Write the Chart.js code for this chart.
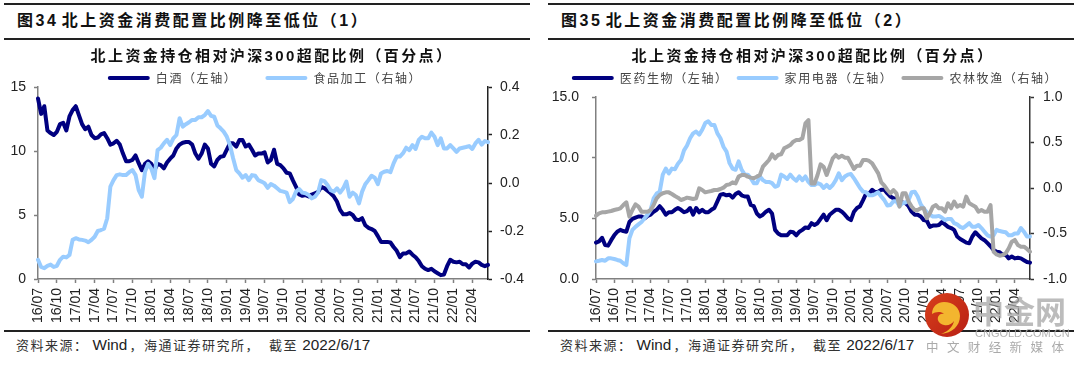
<!DOCTYPE html>
<html><head><meta charset="utf-8">
<script src="https://cdn.jsdelivr.net/npm/chart.js@4"></script>
<style>
html,body{margin:0;padding:0;background:#fff;overflow:hidden;width:1080px;height:365px}
.abs{position:absolute}
.rule{position:absolute;background:#222}
.hd{position:absolute;top:11px;font:bold 16px/20px "Liberation Sans","Noto Sans CJK SC";letter-spacing:2.5px;word-spacing:-3.5px;color:#111;white-space:nowrap}
.src{position:absolute;top:335px;font:13px/20px "Noto Sans CJK SC";letter-spacing:1.5px;color:#333;white-space:pre}
.src b{font:15.3px/20px "Liberation Sans";letter-spacing:0;color:#222}
.src b.w{margin:0 2px 0 4px}
.src i{font-style:normal;margin-left:9px}
canvas{position:absolute}
</style></head><body>
<div class="rule" style="left:4px;width:526px;top:3px;height:2px"></div>
<div class="rule" style="left:4px;width:526px;top:38px;height:2px"></div>
<div class="rule" style="left:4px;width:526px;top:330px;height:2px"></div>
<div class="rule" style="left:548px;width:526px;top:3px;height:2px"></div>
<div class="rule" style="left:548px;width:526px;top:38px;height:2px"></div>
<div class="rule" style="left:548px;width:526px;top:330px;height:2px"></div>
<div class="hd" style="left:17px">图34 北上资金消费配置比例降至低位（1）</div>
<div class="hd" style="left:561px">图35 北上资金消费配置比例降至低位（2）</div>
<canvas id="c1" class="abs" style="left:0;top:45px"></canvas>
<canvas id="c2" class="abs" style="left:550px;top:45px"></canvas>
<div class="src" style="left:16px">资料来源：<b class="w">Wind</b>，海通证券研究所，<i>截至 </i><b>2022/6/17</b></div>
<div class="src" style="left:560px">资料来源：<b class="w">Wind</b>，海通证券研究所，<i>截至 </i><b>2022/6/17</b></div>
<svg class="abs" style="left:920px;top:290px" width="54" height="54" viewBox="0 0 54 54">
<defs><linearGradient id="lg" x1="0" y1="0" x2="1" y2="1"><stop offset="0" stop-color="#d8401c"/><stop offset="1" stop-color="#b81f14"/></linearGradient></defs>
<circle cx="27" cy="25" r="22" fill="url(#lg)"/>
<path d="M12 24c0-8 6-12 12-12 9 0 16 6 16 14 0 10-8 17-19 18 8-3 12-8 13-13-2 3-6 5-10 4-5-1-7-5-6-8 1-3 4-4 6-3-3-3-9-2-12 0z" fill="#f3b52f"/>
</svg>
<div class="abs" style="left:973px;top:292px;font:bold 31px/36px 'Noto Sans CJK SC';color:rgba(165,165,165,.75);white-space:nowrap">中金网</div>
<div class="abs" style="left:975px;top:327px;font:11px/13px 'Liberation Sans';letter-spacing:0;color:rgba(170,170,170,.9);white-space:nowrap">CNGOLD.COM.CN</div>
<div class="abs" style="left:926px;top:338px;font:12.5px/18px 'Noto Sans CJK SC';letter-spacing:8.4px;color:#aaa;white-space:nowrap">中文财经新媒体</div>
<script>
const tickLabels=['16/07','16/10','17/01','17/04','17/07','17/10','18/01','18/04','18/07','18/10','19/01','19/04','19/07','19/10','20/01','20/04','20/07','20/10','21/01','21/04','21/07','21/10','22/01','22/04'];
const baijiu=[14.1,12.9,13.5,11.6,11.4,11.25,11.5,12.1,12.2,11.6,12.7,13.2,13.5,12.8,12.1,11.7,11.9,11.25,11,11.05,11.3,11.4,11,10.5,10.6,10.8,10.5,9.8,9.2,9.2,9.3,9.65,9.05,8.5,9,9.2,9,8.5,9,8.9,8.65,9.1,9.4,9.65,10.2,10.5,10.65,10.7,10.7,10.5,9.8,9.4,9.8,10.5,10.2,9,8.8,9.3,9.55,9.6,10.1,10.6,10.6,10.35,10.85,10.85,10.35,10.5,10.1,9.65,9.8,9.8,9.9,9.1,9.3,10.1,9,8.9,8.65,8.3,8.25,7.7,7.2,6.6,6.5,6.55,6.45,6.6,6.7,6.8,7.2,7.1,6.9,6.7,6.45,6.05,5.4,5.05,5.05,5.15,5,4.65,4.6,4.75,4.2,4,3.9,3.75,3.35,2.9,2.9,2.9,2.85,2.5,2.2,1.7,2,2,2.15,1.9,1.7,1.4,1,0.8,0.7,0.8,0.6,0.45,0.3,0.35,1,1.5,1.35,1.3,1.35,1.15,1.15,0.9,1.2,1.35,1.3,1.1,1,1.1];
const foodProc=[-0.32,-0.35,-0.355,-0.345,-0.34,-0.35,-0.345,-0.32,-0.307,-0.31,-0.3,-0.237,-0.23,-0.235,-0.237,-0.24,-0.247,-0.237,-0.224,-0.2,-0.196,-0.19,-0.147,-0.015,0.012,0.033,0.036,0.033,0.033,0.045,0.054,0.033,-0.03,-0.057,0.047,0.08,0.06,0.02,0.137,0.147,0.165,0.18,0.158,0.186,0.2,0.27,0.235,0.245,0.253,0.263,0.263,0.274,0.274,0.283,0.3,0.28,0.276,0.24,0.228,0.214,0.193,0.158,0.103,0.054,0.04,0.022,0.033,0.012,0.033,0.03,0.012,0.006,-0.001,-0.02,-0.004,-0.011,-0.022,-0.033,-0.036,-0.04,-0.08,-0.067,-0.036,-0.025,-0.04,-0.043,-0.05,-0.064,-0.057,-0.04,0.012,0.008,-0.008,-0.03,-0.036,-0.022,-0.04,-0.022,0.006,-0.057,-0.04,-0.05,-0.085,-0.036,-0.005,0.012,0.03,0.022,-0.005,0.04,0.047,0.05,0.045,0.082,0.11,0.11,0.124,0.147,0.137,0.158,0.142,0.18,0.193,0.186,0.186,0.21,0.193,0.158,0.186,0.144,0.144,0.158,0.144,0.13,0.144,0.147,0.15,0.154,0.142,0.165,0.18,0.16,0.175,0.17];
const pharma=[3,3.1,3.4,2.8,2.75,3.2,3.6,3.9,4.05,3.95,3.9,4.7,4.95,5.05,5.15,5.15,5,5.2,5.3,5.55,5.7,6,5.7,5.3,5.5,5.5,5.7,5.85,5.7,5.5,5.6,5.85,5.3,5.85,5.5,5.7,5.5,5.5,5.7,5.85,6.4,6.95,7,6.9,6.95,6.7,7,7.15,6.9,6.8,6.8,6.1,6,5.4,5.15,5.3,5.55,5.7,5.4,4.05,3.75,3.6,3.6,3.6,3.9,3.85,3.6,3.9,4.05,4.25,4.2,4.6,4.45,4.6,4.95,5.3,4.85,5.3,5.5,5.7,5.7,5.55,5.3,5,4.85,5.55,5.85,6,6.5,7.05,7.05,7.35,7.15,7.2,7.35,7.35,7.05,6.8,6.65,6.6,6.5,6.3,6.25,6,5.55,5.3,5.3,5.15,4.85,4.8,4.3,4.4,4.4,4.45,4.7,4.5,4.3,4.2,4.05,3.5,3.3,3.15,3,2.95,3.5,3.85,3.6,3.35,3.2,2.95,2.7,2.4,2.25,2.2,2,2,1.7,1.85,1.7,1.75,1.7,1.55,1.4,1.35];
const appliance=[1.45,1.5,1.57,1.5,1.7,1.7,1.65,1.57,1.5,1.3,1.15,3.35,4.05,4.3,4.5,4.7,5,5.3,5.7,6.65,7.05,7.2,8.6,9.1,8.7,9.1,9.05,9.5,9.8,10.6,11,11.6,12,12.15,11.9,12.3,12.85,13,12.7,12.7,12,11.6,10.9,10.5,9.55,9.1,9,9.7,9,8.6,8.6,8.3,7.9,7.9,8.45,8.15,8,8,7.9,7.6,7.7,8.6,8.45,8.25,8.6,8.3,8.1,8.45,8.15,8.45,8,7.75,7.75,7.9,7.8,7.5,7.75,7.5,7.75,8.15,8.7,8.15,8.45,8.6,8.65,8.3,7.9,7.5,7.2,7.15,6.9,6.9,7,7.15,6.8,6.5,6.05,6.1,6.4,6.4,6,6.25,6.3,6.5,7.15,7.2,6.8,6.15,5.8,5.5,5.3,5.15,5.15,5.2,5.05,4.85,4.95,4.95,4.6,4.5,4.3,4.2,4.4,4.6,4.3,4.3,4.45,4.2,3.9,3.6,3.5,3.6,4.05,3.95,3.9,3.85,3.6,3.6,3.75,3.75,4.2,3.9,3.5,3.5];
const agri=[-0.304,-0.278,-0.267,-0.267,-0.26,-0.253,-0.242,-0.234,-0.223,-0.187,-0.157,-0.315,-0.242,-0.18,-0.205,-0.26,-0.26,-0.26,-0.242,-0.187,-0.113,-0.077,-0.058,-0.048,-0.048,-0.066,-0.088,-0.106,-0.132,-0.121,-0.106,-0.113,-0.121,-0.113,-0.004,-0.022,-0.048,-0.04,-0.033,-0.022,-0.022,-0.011,0.004,0.033,0.04,0.062,0.051,0.125,0.143,0.143,0.125,0.114,0.106,0.125,0.143,0.234,0.271,0.308,0.37,0.326,0.363,0.37,0.436,0.454,0.472,0.509,0.527,0.527,0.546,0.71,0.747,0.05,0.05,0.143,0.26,0.234,0.143,0.234,0.326,0.363,0.333,0.355,0.333,0.333,0.271,0.209,0.245,0.245,0.308,0.308,0.297,0.271,0.216,0.161,0.062,0.026,-0.022,-0.058,-0.022,-0.058,-0.205,-0.058,-0.058,-0.15,-0.205,-0.242,-0.242,-0.223,-0.223,-0.333,-0.278,-0.205,-0.187,-0.223,-0.223,-0.26,-0.168,-0.223,-0.15,-0.205,-0.187,-0.205,-0.095,-0.168,-0.187,-0.205,-0.26,-0.242,-0.26,-0.26,-0.187,-0.7,-0.73,-0.744,-0.737,-0.718,-0.663,-0.59,-0.571,-0.626,-0.645,-0.645,-0.67,-0.7];
const chartTitle='北上资金持仓相对沪深300超配比例（百分点）';
const NAVY='#000080',SKY='#99CCFF',GREY='#A6A6A6';
const categories=baijiu.map((_,i)=>i%6===0?tickLabels[i/6]:'');
const FF='"Liberation Sans","Noto Sans CJK SC"';

function line(label,data,color,axis,order){
  return {label,data,borderColor:color,backgroundColor:color,borderWidth:4,pointRadius:0,tension:0,yAxisID:axis,order,borderJoinStyle:'round',borderCapStyle:'round'};
}
function tweak(cfg){
  return {id:'tweak',beforeLayout(chart){
    if(chart.$t) return; chart.$t=1;
    const ctx=chart.ctx,lg=chart.legend,tb=chart.titleBlock;
    const f=lg.fit,d=lg.draw,td=tb.draw;
    lg.fit=function(){ctx.letterSpacing='1.6px';f.call(this);ctx.letterSpacing='0px';this.height=cfg.legendH;};
    lg.draw=function(){ctx.save();ctx.letterSpacing='1.6px';ctx.translate(0,cfg.legendDy);this.bottom+=40;d.call(this);this.bottom-=40;ctx.restore();};
    tb.draw=function(){ctx.save();ctx.letterSpacing='2.4px';ctx.translate(cfg.titleDx,0);td.call(this);ctx.restore();};
  }};
}
function yAxis(pos,min,max,step,color,pad,width,dec){
  return {position:pos,min,max,
    ticks:{stepSize:step,padding:pad,color:'#222',font:{family:FF,size:14},callback:v=>dec?Number(v).toFixed(1):String(v)},
    grid:{drawOnChartArea:false,drawTicks:true,tickLength:4,tickColor:color,tickWidth:1.5},
    border:{display:true,color,width:1.5},
    afterFit(s){s.width=width;}};
}
function build(id,w,datasets,left,right,cfg){
  const el=document.getElementById(id);el.width=w;el.height=285;el.style.width=w+'px';el.style.height='285px';
  new Chart(el,{type:'line',data:{labels:categories,datasets},
    plugins:[tweak(cfg)],
    options:{responsive:false,animation:false,devicePixelRatio:1,
      layout:{padding:0},
      plugins:{tooltip:{enabled:false},
        title:{display:true,text:chartTitle,color:'#111',padding:{top:3,bottom:2},font:{family:FF,size:15,weight:'bold'}},
        legend:{display:true,position:'top',labels:{boxWidth:42,boxHeight:4,padding:cfg.legendPad,useBorderRadius:true,borderRadius:2,color:'#444',font:{family:'"Noto Sans CJK SC"',size:12},
          sort:(a,b)=>a.datasetIndex-b.datasetIndex,
          generateLabels:c=>Chart.defaults.plugins.legend.labels.generateLabels(c).map(l=>({...l,lineWidth:0}))}}},
      scales:{
        x:{type:'category',offset:false,
          afterBuildTicks(s){s.ticks=s.ticks.filter(t=>t.value%6===0);},
          ticks:{autoSkip:false,minRotation:90,maxRotation:90,padding:5,color:'#222',font:{family:FF,size:14}},
          grid:{drawOnChartArea:false,drawTicks:true,tickLength:4,tickColor:'#808080',tickWidth:1.5},
          border:{display:true,color:'#808080',width:1.5},
          afterFit(s){s.height=51;}},
        yL:left,yR:right}}});
}
build('c1',530,[line('白酒（左轴）',baijiu,NAVY,'yL',2),line('食品加工（右轴）',foodProc,SKY,'yR',1)],
  yAxis('left',0,15,5,'#808080',8,38,false),yAxis('right',-0.4,0.4,0.2,'#222',8,42,true),
  {legendH:19,legendDy:-24,legendPad:28,titleDx:7});
build('c2',530,[line('医药生物（左轴）',pharma,NAVY,'yL',3),line('家用电器（左轴）',appliance,SKY,'yL',2),line('农林牧渔（右轴）',agri,GREY,'yR',1)],
  yAxis('left',0,15,5,'#808080',13,46,true),yAxis('right',-1,1,0.5,'#333',9,50,true),
  {legendH:29,legendDy:-4,legendPad:8,titleDx:-2});
</script>
</body></html>
